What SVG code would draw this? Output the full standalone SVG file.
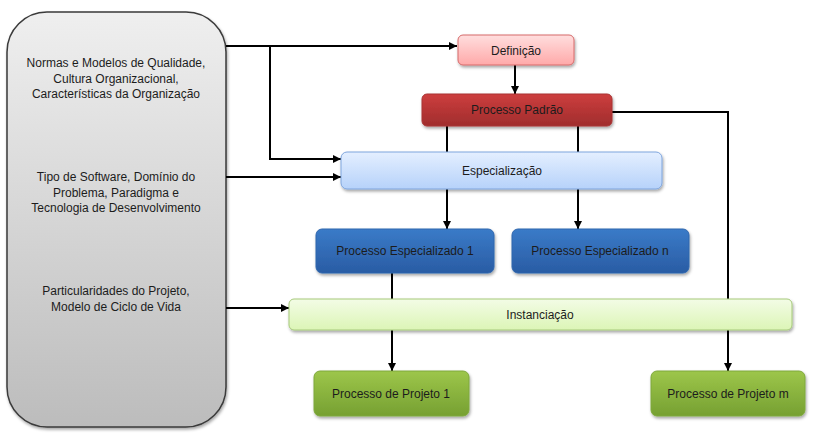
<svg xmlns="http://www.w3.org/2000/svg" width="817" height="444" viewBox="0 0 817 444">
<defs>
<linearGradient id="gPanel" x1="0" y1="0" x2="0" y2="1"><stop offset="0" stop-color="#efefef"/><stop offset="1" stop-color="#bcbcbc"/></linearGradient>
<linearGradient id="gPink" x1="0" y1="0" x2="0" y2="1"><stop offset="0" stop-color="#ffdede"/><stop offset="1" stop-color="#ffa9a9"/></linearGradient>
<linearGradient id="gRed" x1="0" y1="0" x2="0" y2="1"><stop offset="0" stop-color="#cd3e3e"/><stop offset="1" stop-color="#a02d2d"/></linearGradient>
<linearGradient id="gLBlue" x1="0" y1="0" x2="0" y2="1"><stop offset="0" stop-color="#e4efff"/><stop offset="1" stop-color="#b6d2fa"/></linearGradient>
<linearGradient id="gBlue" x1="0" y1="0" x2="0" y2="1"><stop offset="0" stop-color="#3a7bc8"/><stop offset="1" stop-color="#2a5ca4"/></linearGradient>
<linearGradient id="gLGreen" x1="0" y1="0" x2="0" y2="1"><stop offset="0" stop-color="#f3fce6"/><stop offset="1" stop-color="#dcf5b6"/></linearGradient>
<linearGradient id="gGreen" x1="0" y1="0" x2="0" y2="1"><stop offset="0" stop-color="#9dc64a"/><stop offset="1" stop-color="#76a032"/></linearGradient>
<filter id="sh" x="-10%" y="-10%" width="120%" height="130%"><feDropShadow dx="1" dy="2" stdDeviation="1.5" flood-color="#000" flood-opacity="0.35"/></filter>
<marker id="arr" viewBox="0 0 10 10" refX="10" refY="5" markerWidth="8" markerHeight="8" markerUnits="userSpaceOnUse" orient="auto"><path d="M0,0 L10,5 L0,10 z" fill="#000"/></marker>
</defs>
<style>
text{font-family:"Liberation Sans",Arial,sans-serif;font-size:12px;fill:#1c1c1c;text-anchor:middle}
.c{fill:none;stroke:#000;stroke-width:2}
.a{marker-end:url(#arr)}
.box{filter:url(#sh)}
</style>
<g id="panel">
<rect x="7" y="12" width="219" height="415" rx="40" ry="40" fill="url(#gPanel)" stroke="#3a3a3a" stroke-width="1.5" class="box"/>
<text x="116" y="67">Normas e Modelos de Qualidade,</text>
<text x="116" y="83">Cultura Organizacional,</text>
<text x="116" y="98">Características da Organização</text>
<text x="116" y="181">Tipo de Software, Domínio do</text>
<text x="116" y="197">Problema, Paradigma e</text>
<text x="116" y="212">Tecnologia de Desenvolvimento</text>
<text x="116" y="295">Particularidades do Projeto,</text>
<text x="116" y="311">Modelo de Ciclo de Vida</text>
</g>
<g id="connectors">
<path class="c a" d="M226,46 H457"/>
<path class="c a" d="M270,46 V159 H341"/>
<path class="c a" d="M226,177 H341"/>
<path class="c a" d="M226,308 H289"/>
<path class="c a" d="M515,65 V94"/>
<path class="c" d="M447,126 V152"/>
<path class="c" d="M578,126 V152"/>
<path class="c a" d="M447,189 V229"/>
<path class="c a" d="M578,189 V229"/>
<path class="c" d="M392,273 V299"/>
<path class="c" d="M612,112 H728 V299"/>
<path class="c a" d="M392,330 V371"/>
<path class="c a" d="M728,330 V371"/>
</g>
<g id="definicao">
<rect x="458" y="35" width="116" height="30" rx="5" fill="url(#gPink)" stroke="#d66a6a" stroke-width="1" class="box"/>
<text x="516" y="55">Definição</text>
</g>
<g id="processo-padrao">
<rect x="422" y="94" width="190" height="32" rx="5" fill="url(#gRed)" stroke="#a83434" stroke-width="1" class="box"/>
<text x="517" y="114">Processo Padrão</text>
</g>
<g id="especializacao">
<rect x="341" y="152" width="321" height="37" rx="6" fill="url(#gLBlue)" stroke="#7ea5dd" stroke-width="1" class="box"/>
<text x="502" y="175">Especialização</text>
</g>
<g id="proc-esp-1">
<rect x="316" y="229" width="178" height="44" rx="6" fill="url(#gBlue)" stroke="#2f66ad" stroke-width="1" class="box"/>
<text x="405" y="255">Processo Especializado 1</text>
</g>
<g id="proc-esp-n">
<rect x="512" y="229" width="177" height="44" rx="6" fill="url(#gBlue)" stroke="#2f66ad" stroke-width="1" class="box"/>
<text x="600" y="255">Processo Especializado n</text>
</g>
<g id="instanciacao">
<rect x="289" y="299" width="503" height="31" rx="5" fill="url(#gLGreen)" stroke="#a6c97a" stroke-width="1" class="box"/>
<text x="540" y="319">Instanciação</text>
</g>
<g id="proc-proj-1">
<rect x="314" y="371" width="155" height="45" rx="6" fill="url(#gGreen)" stroke="#7ea83c" stroke-width="1" class="box"/>
<text x="391" y="398">Processo de Projeto 1</text>
</g>
<g id="proc-proj-m">
<rect x="651" y="371" width="154" height="45" rx="6" fill="url(#gGreen)" stroke="#7ea83c" stroke-width="1" class="box"/>
<text x="728" y="398">Processo de Projeto m</text>
</g>
</svg>
